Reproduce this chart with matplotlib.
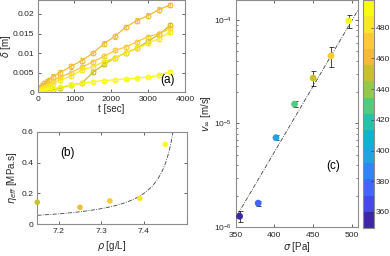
import matplotlib
matplotlib.use("Agg")
import matplotlib.pyplot as plt
import numpy as np
from matplotlib.colors import LinearSegmentedColormap, Normalize
from matplotlib.cm import ScalarMappable

plt.rcParams['font.family'] = ['Liberation Sans', 'DejaVu Sans']
plt.rcParams['mathtext.fontset'] = 'dejavusans'

# parula-like colormap (anchor colours taken from MATLAB's parula)
parula_pts = [
    (0.2422, 0.1504, 0.6603), (0.2783, 0.2559, 0.8991), (0.2795, 0.3447, 0.9717),
    (0.2440, 0.4358, 0.9988), (0.1786, 0.5289, 0.9682), (0.1380, 0.6276, 0.8973),
    (0.0689, 0.6948, 0.8394), (0.0067, 0.7312, 0.7660), (0.1717, 0.7670, 0.6554),
    (0.2906, 0.7973, 0.5188), (0.5044, 0.7993, 0.3480), (0.6720, 0.7793, 0.2227),
    (0.8203, 0.7498, 0.1535), (0.9393, 0.7288, 0.2100), (0.9970, 0.7659, 0.2199),
    (0.9786, 0.8386, 0.1766), (0.9628, 0.9373, 0.1265), (0.9769, 0.9839, 0.0805),
]
cmap = LinearSegmentedColormap.from_list('parula', parula_pts).resampled(14)
sig_min, sig_max = 349.5, 498
norm = Normalize(sig_min, sig_max)

# (a) strain vs time
t_a = [0, 60, 120, 180, 240, 300, 420, 600, 900, 1200, 1500, 1800, 2100, 2400, 2700, 3000, 3300, 3600]
sig_a = [461, 450, 473, 484, 496]
d_a = [
    [0, 0.0012, 0.0017, 0.0023, 0.0027, 0.0031, 0.0040, 0.0050, 0.0066, 0.0081, 0.0100,
     0.0124, 0.0143, 0.0167, 0.0183, 0.0196, 0.0211, 0.0223],
    [0, 0.0001, 0.0002, 0.0003, 0.0004, 0.0005, 0.0007, 0.0010, 0.0019, 0.0023, 0.0051,
     0.0071, 0.0088, 0.0101, 0.0113, 0.0130, 0.0148, 0.0171],
    [0, 0.0007, 0.0010, 0.0014, 0.0018, 0.0022, 0.0030, 0.0038, 0.0050, 0.0064, 0.0078,
     0.0092, 0.0107, 0.0116, 0.0129, 0.0142, 0.0150, 0.0163],
    [0, 0.0005, 0.0008, 0.0011, 0.0014, 0.0017, 0.0024, 0.0031, 0.0041, 0.0057, 0.0065,
     0.0078, 0.0088, 0.0101, 0.0112, 0.0125, 0.0137, 0.0154],
    [0, 0.0002, 0.0004, 0.0005, 0.0006, 0.0008, 0.0010, 0.0013, 0.0019, 0.0023, 0.0027,
     0.0030, 0.0032, 0.0034, 0.0036, 0.0039, 0.0043, 0.0053],
]
err_a = [0.0006, 0.0005, 0.0005, 0.0005, 0.0003]

# (b) effective viscosity vs density
rho_b = [7.15, 7.25, 7.32, 7.39, 7.45]
eta_b = [0.143, 0.110, 0.152, 0.168, 0.518]
sig_b = [450, 461, 473, 484, 496]
fit_b_A, fit_b_rhoc = 0.0205, 7.502

# (c) velocity vs stress
sig_c = [355, 379, 402, 426, 450, 473, 496]
v_c = [1.27e-6, 1.70e-6, 7.3e-6, 1.54e-5, 2.75e-5, 4.5e-5, 9.8e-5]
verr_c = [1.5e-7, 1.0e-7, 4e-7, 1.0e-6, 4.6e-6, 1.0e-5, 1.4e-5]
fit_c_sig0, fit_c_logv0, fit_c_slope = 352.6, -5.877, 0.0127

tick_col = '0.15'
spine_col = '0.55'
dashdot = (0, (5, 1.6, 1, 1.6))
fs_tick = 6.1
fs_lab = 7.0

fig = plt.figure(figsize=(3.9, 2.56), dpi=100)


def style(ax):
    for s in ax.spines.values():
        s.set_color(spine_col)
        s.set_linewidth(0.8)
    ax.tick_params(direction='in', top=True, right=True, labelsize=fs_tick,
                   colors=tick_col, length=2.5, width=0.5, pad=2.5)
    ax.tick_params(which='minor', direction='in', top=True, right=True,
                   length=1.5, width=0.4, colors=tick_col)


# panel (a)
ax1 = fig.add_axes([0.0967, 0.6395, 0.3773, 0.3595])
for d, s, e in zip(d_a, sig_a, err_a):
    c = cmap(norm(s))
    ax1.errorbar(t_a, d, yerr=e, color=c, marker='o', ms=3.4, mfc='none', mew=0.8,
                 lw=0.9, elinewidth=0.5, capsize=1.2)
ax1.set_xlim(0, 4000)
ax1.set_ylim(0, 0.0235)
ax1.set_xticks([0, 1000, 2000, 3000, 4000])
ax1.set_yticks([0, 0.005, 0.01, 0.015, 0.02])
ax1.set_yticklabels(['0', '0.005', '0.01', '0.015', '0.02'])
ax1.set_xlabel('t [sec]', fontsize=fs_lab, color=tick_col, labelpad=1)
ax1.set_ylabel(r'$\delta$ [m]', fontsize=fs_lab, color=tick_col, labelpad=0)
ax1.text(0.88, 0.13, '(a)', transform=ax1.transAxes, fontsize=8.5, color='k',
         ha='center', va='center')
style(ax1)

# panel (b)
ax2 = fig.add_axes([0.0956, 0.1238, 0.3831, 0.3617])
rr = np.linspace(7.15, 7.4685, 300)
ax2.plot(rr, fit_b_A / (fit_b_rhoc - rr), color='0.25', lw=0.6, ls=dashdot)
ax2.scatter(rho_b, eta_b, c=[cmap(norm(s)) for s in sig_b], s=16, zorder=3,
            edgecolors='none', clip_on=False)
ax2.set_xlim(7.15, 7.5)
ax2.set_ylim(0, 0.6)
ax2.set_xticks([7.2, 7.3, 7.4])
ax2.set_yticks([0, 0.2, 0.4, 0.6])
ax2.set_yticklabels(['0', '0.2', '0.4', '0.6'])
ax2.set_xlabel(r'$\rho$ [g/L]', fontsize=fs_lab, color=tick_col, labelpad=3)
ax2.set_ylabel(r'$\eta_{eff}$ [MPa.s]', fontsize=fs_lab, color=tick_col, labelpad=2)
ax2.text(0.2, 0.77, '(b)', transform=ax2.transAxes, fontsize=8.5, color='k',
         ha='center', va='center')
style(ax2)

# panel (c)
ax3 = fig.add_axes([0.6044, 0.1133, 0.3136, 0.8867])
ss = np.linspace(fit_c_sig0, 510, 100)
ax3.plot(ss, 10 ** (fit_c_logv0 + fit_c_slope * (ss - fit_c_sig0)),
         color='0.25', lw=0.6, ls=dashdot)
ax3.errorbar(sig_c, v_c, yerr=verr_c, fmt='none', ecolor='k', elinewidth=0.5,
             capsize=1.8, capthick=0.5, zorder=2)
ax3.scatter(sig_c, v_c, c=[cmap(norm(s)) for s in sig_c], s=24, zorder=3,
            edgecolors='none')
ax3.set_yscale('log')
ax3.set_xlim(350, 508)
ax3.set_ylim(1e-6, 1.56e-4)
ax3.set_xticks([350, 400, 450, 500])
ax3.set_xlabel(r'$\sigma$ [Pa]', fontsize=fs_lab, color=tick_col, labelpad=1)
ax3.set_ylabel(r'$v_\infty$ [m/s]', fontsize=fs_lab, color=tick_col, labelpad=1)
ax3.text(0.8, 0.27, '(c)', transform=ax3.transAxes, fontsize=8.5, color='k',
         ha='center', va='center')
style(ax3)
ax3.tick_params(axis='x', pad=3.5)

# colorbar
cax = fig.add_axes([0.931, 0.109, 0.028, 0.891])
cb = fig.colorbar(ScalarMappable(norm=norm, cmap=cmap), cax=cax)
cb.set_ticks([360, 380, 400, 420, 440, 460, 480])
cb.outline.set_edgecolor(spine_col)
cb.outline.set_linewidth(0.8)
cax.tick_params(direction='in', labelsize=fs_tick, colors=tick_col, length=2, width=0.4, pad=1)

fig.savefig('out.png', dpi=100)
